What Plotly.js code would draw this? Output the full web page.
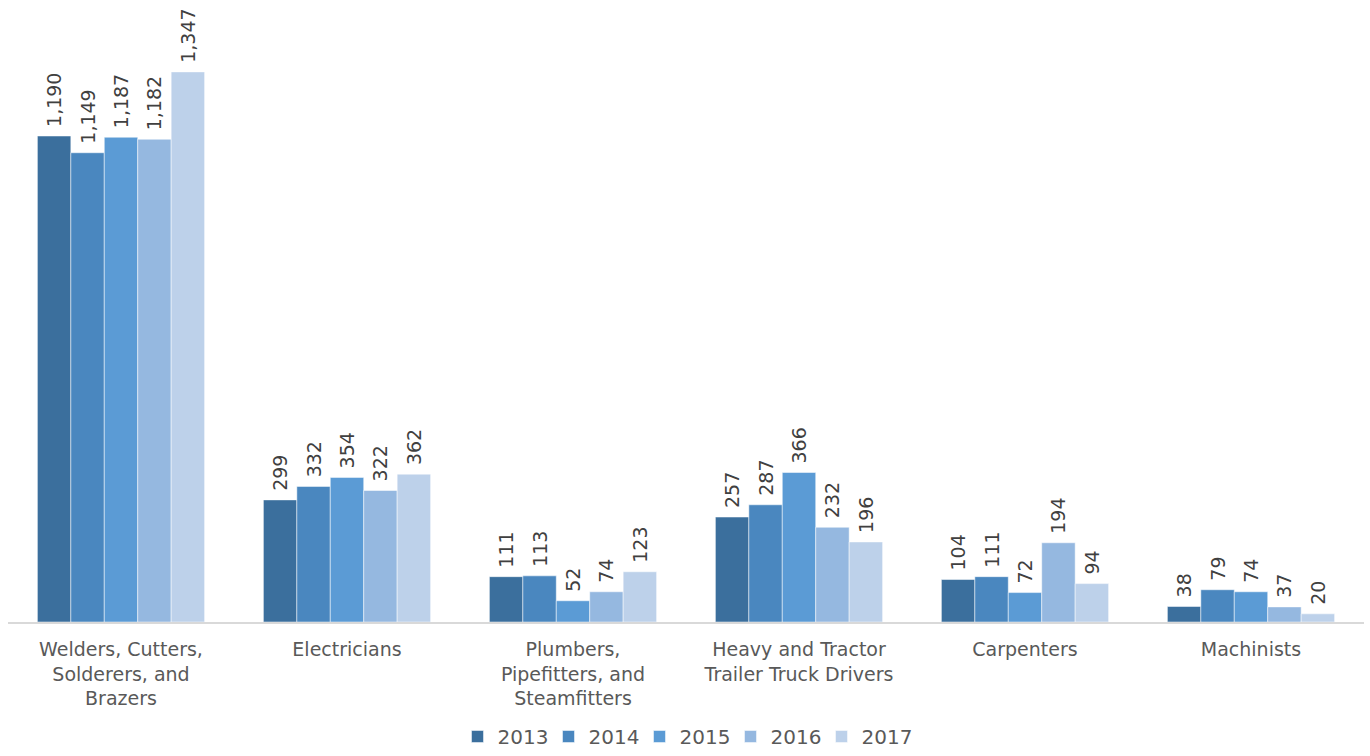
<!DOCTYPE html>
<html><head><meta charset="utf-8">
<script src="https://cdn.plot.ly/plotly-3.0.1.min.js"></script>
<style>html,body{margin:0;padding:0;background:#fff}</style>
</head><body><div id="chart" style="width:1370px;height:756px"></div>
<script>
const categories = ["Welders, Cutters,<br>Solderers, and<br>Brazers", "Electricians", "Plumbers,<br>Pipefitters, and<br>Steamfitters", "Heavy and Tractor<br>Trailer Truck Drivers", "Carpenters", "Machinists"];
const years = ["2013", "2014", "2015", "2016", "2017"];
const v2013 = [1190, 299, 111, 257, 104, 38];
const v2014 = [1149, 332, 113, 287, 111, 79];
const v2015 = [1187, 354, 52, 366, 72, 74];
const v2016 = [1182, 322, 74, 232, 194, 37];
const v2017 = [1347, 362, 123, 196, 94, 20];
const series = [v2013, v2014, v2015, v2016, v2017];
const colors = ["#3b6f9d", "#4a87bf", "#5b9bd5", "#95b8e0", "#bdd1ea"];
const FONT = "DejaVu Sans, sans-serif";

const traces = series.map((vals, i) => ({
  type: "bar",
  name: years[i],
  x: categories,
  y: vals,
  marker: {color: colors[i], line: {color: "#ffffff", width: 0.5}},
  text: vals.map(v => "\u00a0" + v.toLocaleString("en-US")),
  textposition: "outside",
  textangle: -90,
  constraintext: "none",
  cliponaxis: false,
  textfont: {family: FONT, size: 19, color: "#404040"},
  hoverinfo: "skip"
}));

const layout = {
  width: 1370, height: 756,
  margin: {l: 8, r: 6, t: 0, b: 134},
  barmode: "group",
  bargap: 0.26,
  bargroupgap: 0,
  paper_bgcolor: "#fff", plot_bgcolor: "#fff",
  font: {family: FONT, color: "#595959"},
  xaxis: {
    showline: true, linecolor: "#d9d9d9", linewidth: 2,
    ticks: "", ticklabelstandoff: 9,
    tickfont: {family: FONT, size: 19, color: "#595959"},
    automargin: false
  },
  yaxis: {
    range: [0, 1523], visible: false, showgrid: false, zeroline: false, fixedrange: true
  },
  showlegend: true,
  legend: {
    orientation: "h", xref: "container", yref: "container",
    x: 0.5, xanchor: "center", y: 0, yanchor: "bottom",
    font: {family: FONT, size: 20, color: "#595959"}, traceorder: "normal",
    itemwidth: 30, tracegroupgap: 0, itemclick: false,
    entrywidth: 46, entrywidthmode: "pixels"
  }
};
Plotly.newPlot("chart", traces, layout, {displayModeBar: false, staticPlot: true});
</script></body></html>
